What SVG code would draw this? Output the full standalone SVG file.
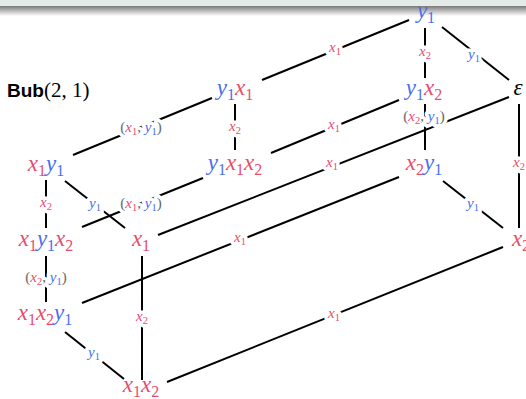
<svg xmlns="http://www.w3.org/2000/svg" xmlns:xlink="http://www.w3.org/1999/xlink" width="526" height="399" viewBox="0 0 526 399">
<defs>
<linearGradient id="bar" x1="0" y1="0" x2="0" y2="1">
<stop offset="0" stop-color="#7a7a7a"/>
<stop offset="1" stop-color="#ffffff"/>
</linearGradient>
<style>
.n{font-family:"Liberation Serif",serif;font-size:23px}
.e{font-family:"Liberation Serif",serif;font-size:15px}
.halo{stroke:#fff;stroke-width:7;stroke-linejoin:round}
.i{font-style:italic}
.s1{font-size:16px}
.s2{font-size:10.5px}
.r{fill:#e84c6b}
.b{fill:#4a6ef0}
.g{fill:#666}
.k{fill:#000}
#edges line{stroke:#000;stroke-width:2;stroke-linecap:butt}
</style>
<text id="lx1" class="e" text-anchor="middle"><tspan class="r i">x</tspan><tspan class="r s2" dy="3">1</tspan></text>
<text id="lx2" class="e" text-anchor="middle"><tspan class="r i">x</tspan><tspan class="r s2" dy="3">2</tspan></text>
<text id="ly1" class="e" text-anchor="middle"><tspan class="b i">y</tspan><tspan class="b s2" dy="3">1</tspan></text>
<text id="lp1" class="e" text-anchor="middle"><tspan class="g">(</tspan><tspan class="r i">x</tspan><tspan class="r s2" dy="3">1</tspan><tspan class="g" dy="-3">, </tspan><tspan class="b i">y</tspan><tspan class="b s2" dy="3">1</tspan><tspan class="g" dy="-3">)</tspan></text>
<text id="lp2" class="e" text-anchor="middle"><tspan class="g">(</tspan><tspan class="r i">x</tspan><tspan class="r s2" dy="3">2</tspan><tspan class="g" dy="-3">, </tspan><tspan class="b i">y</tspan><tspan class="b s2" dy="3">1</tspan><tspan class="g" dy="-3">)</tspan></text>
</defs>
<rect x="0" y="0" width="526" height="6" fill="#e5ebe8"/>
<rect x="0" y="6" width="526" height="10" fill="url(#bar)"/>
<g id="edges">
<line x1="409" y1="20" x2="262" y2="80"/>
<line x1="425" y1="28" x2="425" y2="78"/>
<line x1="442" y1="27" x2="509" y2="80"/>
<line x1="212" y1="98" x2="73" y2="155"/>
<line x1="235" y1="104" x2="235" y2="150"/>
<line x1="399" y1="100" x2="271" y2="153"/>
<line x1="425" y1="104" x2="425" y2="150"/>
<line x1="509" y1="97" x2="158" y2="235"/>
<line x1="519" y1="104" x2="519" y2="228"/>
<line x1="46" y1="180" x2="46" y2="228"/>
<line x1="65" y1="181" x2="125" y2="228"/>
<line x1="203" y1="178" x2="82" y2="227"/>
<line x1="399" y1="177" x2="82" y2="303"/>
<line x1="443" y1="181" x2="503" y2="228"/>
<line x1="46" y1="256" x2="46" y2="302"/>
<line x1="142" y1="256" x2="142" y2="380"/>
<line x1="65" y1="332" x2="124" y2="379"/>
<line x1="167" y1="382" x2="503" y2="247"/>
</g>
<g id="edge-label-halos" class="halo">
<use xlink:href="#lx1" x="335" y="52"/>
<use xlink:href="#lx2" x="425" y="56"/>
<use xlink:href="#ly1" x="474" y="59"/>
<use xlink:href="#lp1" x="141" y="132"/>
<use xlink:href="#lx2" x="235" y="131"/>
<use xlink:href="#lx1" x="334" y="129"/>
<use xlink:href="#lp2" x="424" y="121"/>
<use xlink:href="#lx1" x="332" y="167"/>
<use xlink:href="#lx2" x="519" y="167"/>
<use xlink:href="#lx2" x="46" y="207"/>
<use xlink:href="#ly1" x="95" y="208"/>
<use xlink:href="#lp1" x="141" y="208"/>
<use xlink:href="#lx1" x="240" y="242"/>
<use xlink:href="#ly1" x="473" y="208"/>
<use xlink:href="#lp2" x="46" y="282"/>
<use xlink:href="#lx2" x="142" y="321"/>
<use xlink:href="#ly1" x="94" y="357"/>
<use xlink:href="#lx1" x="334" y="318"/>
</g>
<g id="edge-labels">
<use xlink:href="#lx1" x="335" y="52"/>
<use xlink:href="#lx2" x="425" y="56"/>
<use xlink:href="#ly1" x="474" y="59"/>
<use xlink:href="#lp1" x="141" y="132"/>
<use xlink:href="#lx2" x="235" y="131"/>
<use xlink:href="#lx1" x="334" y="129"/>
<use xlink:href="#lp2" x="424" y="121"/>
<use xlink:href="#lx1" x="332" y="167"/>
<use xlink:href="#lx2" x="519" y="167"/>
<use xlink:href="#lx2" x="46" y="207"/>
<use xlink:href="#ly1" x="95" y="208"/>
<use xlink:href="#lp1" x="141" y="208"/>
<use xlink:href="#lx1" x="240" y="242"/>
<use xlink:href="#ly1" x="473" y="208"/>
<use xlink:href="#lp2" x="46" y="282"/>
<use xlink:href="#lx2" x="142" y="321"/>
<use xlink:href="#ly1" x="94" y="357"/>
<use xlink:href="#lx1" x="334" y="318"/>
</g>
<g id="title"><text x="7" y="97" font-size="21" class="k"><tspan font-family="Liberation Sans, sans-serif" font-weight="bold" font-size="19">Bub</tspan><tspan font-family="Liberation Serif, serif">(2, 1)</tspan></text></g>
<g id="n-y1"><text class="n" x="426" y="18" text-anchor="middle"><tspan class="b i">y</tspan><tspan class="b s1" dy="5">1</tspan></text></g>
<g id="n-y1x1"><text class="n" x="235" y="95" text-anchor="middle"><tspan class="b i">y</tspan><tspan class="b s1" dy="5">1</tspan><tspan class="r i" dy="-5">x</tspan><tspan class="r s1" dy="5">1</tspan></text></g>
<g id="n-y1x2"><text class="n" x="424" y="95" text-anchor="middle"><tspan class="b i">y</tspan><tspan class="b s1" dy="5">1</tspan><tspan class="r i" dy="-5">x</tspan><tspan class="r s1" dy="5">2</tspan></text></g>
<g id="n-eps"><text class="n i k" x="518" y="95" text-anchor="middle">ε</text></g>
<g id="n-x1y1"><text class="n" x="46" y="171" text-anchor="middle"><tspan class="r i">x</tspan><tspan class="r s1" dy="5">1</tspan><tspan class="b i" dy="-5">y</tspan><tspan class="b s1" dy="5">1</tspan></text></g>
<g id="n-y1x1x2"><text class="n" x="235" y="170" text-anchor="middle"><tspan class="b i">y</tspan><tspan class="b s1" dy="5">1</tspan><tspan class="r i" dy="-5">x</tspan><tspan class="r s1" dy="5">1</tspan><tspan class="r i" dy="-5">x</tspan><tspan class="r s1" dy="5">2</tspan></text></g>
<g id="n-x2y1"><text class="n" x="424" y="170" text-anchor="middle"><tspan class="r i">x</tspan><tspan class="r s1" dy="5">2</tspan><tspan class="b i" dy="-5">y</tspan><tspan class="b s1" dy="5">1</tspan></text></g>
<g id="n-x1y1x2"><text class="n" x="46" y="246" text-anchor="middle"><tspan class="r i">x</tspan><tspan class="r s1" dy="5">1</tspan><tspan class="b i" dy="-5">y</tspan><tspan class="b s1" dy="5">1</tspan><tspan class="r i" dy="-5">x</tspan><tspan class="r s1" dy="5">2</tspan></text></g>
<g id="n-x1"><text class="n" x="141" y="246" text-anchor="middle"><tspan class="r i">x</tspan><tspan class="r s1" dy="5">1</tspan></text></g>
<g id="n-x2"><text class="n" x="521" y="246" text-anchor="middle"><tspan class="r i">x</tspan><tspan class="r s1" dy="5">2</tspan></text></g>
<g id="n-x1x2y1"><text class="n" x="45" y="320" text-anchor="middle"><tspan class="r i">x</tspan><tspan class="r s1" dy="5">1</tspan><tspan class="r i" dy="-5">x</tspan><tspan class="r s1" dy="5">2</tspan><tspan class="b i" dy="-5">y</tspan><tspan class="b s1" dy="5">1</tspan></text></g>
<g id="n-x1x2"><text class="n" x="141" y="392" text-anchor="middle"><tspan class="r i">x</tspan><tspan class="r s1" dy="5">1</tspan><tspan class="r i" dy="-5">x</tspan><tspan class="r s1" dy="5">2</tspan></text></g>
</svg>
